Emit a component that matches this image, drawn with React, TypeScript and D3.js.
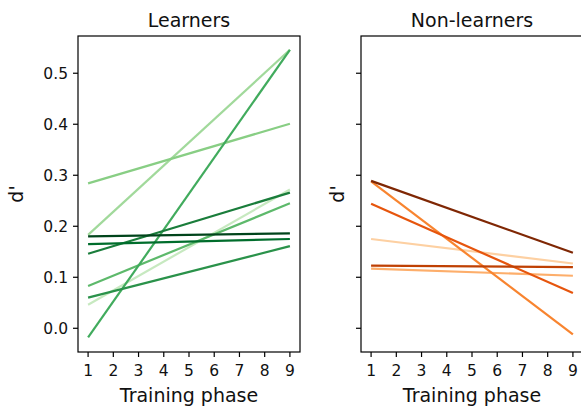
import React from 'react'
import * as d3 from 'd3'

const phases = [1, 2, 3, 4, 5, 6, 7, 8, 9]
const yTicks = [0, 0.1, 0.2, 0.3, 0.4, 0.5]

// d' at the first and last training phase (fitted lines)
const learnerStart = [0.046, 0.183, 0.284, 0.083, -0.018, 0.060, 0.146, 0.165, 0.180]
const learnerEnd = [0.272, 0.546, 0.401, 0.245, 0.546, 0.161, 0.266, 0.175, 0.186]
const learnerColors = ['#c7e9c0', '#a1d99b', '#88ce84', '#5db96b', '#41ab5d', '#2a924a', '#1a7d3b', '#006d2c', '#00441b']

const nonLearnerStart = [0.175, 0.117, 0.288, 0.244, 0.123, 0.289]
const nonLearnerEnd = [0.127, 0.103, -0.012, 0.069, 0.120, 0.148]
const nonLearnerColors = ['#fdd0a2', '#fdae6b', '#f8842f', '#e6550d', '#bf4003', '#7f2704']

const W = 581
const H = 411
const font = 'DejaVu Sans, sans-serif'

const y = d3.scaleLinear().domain([-0.0465, 0.573]).range([352, 36])

const Panel = ({ left, title, starts, ends, colors, showYLabels }) => {
  const x = d3.scaleLinear().domain([0.6, 9.4]).range([left, left + 222])
  const first = phases[0]
  const last = phases[phases.length - 1]
  const line = d3.line().x(d => x(d[0])).y(d => y(d[1]))
  const [y0, y1] = y.range()
  const cx = (x.range()[0] + x.range()[1]) / 2

  return (
    <g>
      {starts.map((s, i) => (
        <path
          key={i}
          d={line([[first, s], [last, ends[i]]])}
          fill="none"
          stroke={colors[i]}
          strokeWidth={2.2}
        />
      ))}
      <rect
        x={x.range()[0]}
        y={y1}
        width={x.range()[1] - x.range()[0]}
        height={y0 - y1}
        fill="none"
        stroke="#000"
        strokeWidth={1.2}
      />
      {phases.map(p => (
        <g key={p}>
          <line x1={x(p)} x2={x(p)} y1={y0} y2={y0 + 5} stroke="#000" strokeWidth={1.2} />
          <text x={x(p)} y={y0 + 24} textAnchor="middle" fontSize={15.5} fontFamily={font} fill="#111">
            {p}
          </text>
        </g>
      ))}
      {yTicks.map(t => (
        <g key={t}>
          <line x1={x.range()[0] - 5} x2={x.range()[0]} y1={y(t)} y2={y(t)} stroke="#000" strokeWidth={1.2} />
          {showYLabels && (
            <text x={x.range()[0] - 10} y={y(t) + 5.5} textAnchor="end" fontSize={15.5} fontFamily={font} fill="#111">
              {d3.format('.1f')(t)}
            </text>
          )}
        </g>
      ))}
      <text x={cx} y={27} textAnchor="middle" fontSize={19} fontFamily={font} fill="#111">
        {title}
      </text>
      <text x={cx} y={402} textAnchor="middle" fontSize={19} fontFamily={font} fill="#111">
        Training phase
      </text>
      <text
        transform={`translate(${showYLabels ? 23 : left - 17},${(y0 + y1) / 2}) rotate(-90)`}
        textAnchor="middle"
        fontSize={19}
        fontFamily={font}
        fill="#111"
      >
        d'
      </text>
    </g>
  )
}

export default function App() {
  return (
    <svg
      width={W}
      height={H}
      style={{ position: 'absolute', left: 0, top: 0, background: '#fff' }}
    >
      <rect width={W} height={H} fill="#fff" />
      <Panel left={78} title="Learners" starts={learnerStart} ends={learnerEnd} colors={learnerColors} showYLabels />
      <Panel left={361} title="Non-learners" starts={nonLearnerStart} ends={nonLearnerEnd} colors={nonLearnerColors} showYLabels={false} />
    </svg>
  )
}
